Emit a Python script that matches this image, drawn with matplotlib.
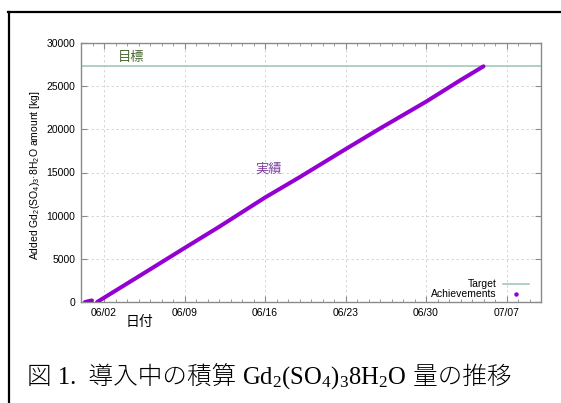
import matplotlib
matplotlib.use("Agg")
import matplotlib.pyplot as plt
import matplotlib.dates as mdates
from matplotlib.lines import Line2D
import pandas as pd

# ---- data ----
test_dates = ["2018-05-31 08:30", "2018-05-31 22:30"]
test_values = [0, 180]

main_dates = ["2018-06-01 09:40", "2018-06-02 00:00", "2018-06-05 00:00",
              "2018-06-09 00:00", "2018-06-12 00:00", "2018-06-16 00:00",
              "2018-06-19 00:00", "2018-06-23 00:00", "2018-06-26 00:00",
              "2018-06-30 00:00", "2018-07-03 00:00", "2018-07-05 00:00"]
main_values = [0, 490, 2950, 6250, 8700, 12100, 14450, 17700, 20100,
               23200, 25700, 27300]

target_value = 27300
x_major_ticks = ["2018-06-02", "2018-06-09", "2018-06-16", "2018-06-23",
                 "2018-06-30", "2018-07-07"]
x_range = ["2018-05-31", "2018-07-10"]
y_ticks = [0, 5000, 10000, 15000, 20000, 25000, 30000]

# ---- style ----
plt.rcParams['font.family'] = ['Liberation Sans', 'Noto Sans CJK JP']
plt.rcParams['mathtext.default'] = 'regular'

fig = plt.figure(figsize=(5.61, 4.03), dpi=100)
ax = fig.add_axes([81/561, 1-302/403, 460/561, 259/403])

purple = '#9400d3'
target_col = '#9fc9b9'
gray = '#8a8a8a'

td = pd.to_datetime(test_dates)
md = pd.to_datetime(main_dates)
ax.plot(td, test_values, color=purple, lw=2.9, solid_capstyle='round', zorder=3)
ax.plot(md, main_values, color=purple, lw=2.9, solid_capstyle='round', zorder=3)
ax.axhline(target_value, color=target_col, lw=1.2, zorder=2)

xr = pd.to_datetime(x_range)
ax.set_xlim(xr[0], xr[1])
ax.set_ylim(0, 30000)
ax.set_yticks(y_ticks)
ax.set_xticks(pd.to_datetime(x_major_ticks))
ax.xaxis.set_major_formatter(mdates.DateFormatter('%m/%d'))
ax.xaxis.set_minor_locator(mdates.DayLocator())

ax.grid(True, which='major', color='#d0d0d0', ls=(0, (3, 3)), lw=0.6)
for s in ax.spines.values():
    s.set_color(gray)
    s.set_linewidth(1.0)
ax.tick_params(which='both', direction='in', top=True, right=True,
               color=gray, labelsize=7.5, pad=4)
ax.tick_params(which='major', length=4)
ax.tick_params(which='minor', length=2.5)

# annotations
ax.text(pd.Timestamp("2018-06-03 06:00"), 28250, "目標", color='#4a6a34',
        fontsize=9.5, ha='left', va='center')
ax.text(pd.Timestamp("2018-06-16 08:00"), 15300, "実績", color='#7b3f9e',
        fontsize=9.5, ha='center', va='center')

# legend (gnuplot style)
ax.text(0.904, 0.0695, "Target", transform=ax.transAxes, ha='right',
        va='center', fontsize=7.5)
ax.text(0.904, 0.031, "Achievements", transform=ax.transAxes, ha='right',
        va='center', fontsize=7.5)
ax.add_line(Line2D([0.917, 0.974], [0.0695, 0.0695], transform=ax.transAxes,
                   color=target_col, lw=1.2))
ax.add_line(Line2D([0.946], [0.031], transform=ax.transAxes, color=purple,
                   marker='o', ms=2.2, ls='none'))

# axis labels
fig.text(35/561, 1-175/403,
         "Added Gd$_2$(SO$_4$)$_3$·8H$_2$O amount [kg]", rotation=90,
         ha='center', va='center', fontsize=7.5)
fig.text(139/561, 1-322/403, "日付", ha='center', va='center', fontsize=10)

# caption, drawn in pieces so CJK glyphs and the formula both render
cap_pieces = [("図 1.  導入中の積算 ", ['Liberation Serif', 'Noto Sans CJK JP']),
              ("Gd$_2$(SO$_4$)$_3$8H$_2$O", ['Liberation Serif']),
              (" 量の推移", ['Liberation Serif', 'Noto Sans CJK JP'])]
fig.canvas.draw()
renderer = fig.canvas.get_renderer()
x0 = 27
ybase = 1 - 384/403
for txt, fam in cap_pieces:
    t = fig.text(x0/561, ybase, txt, ha='left', va='baseline', fontsize=17.7,
                 family=fam, fontweight='light')
    bb = t.get_window_extent(renderer=renderer)
    x0 = bb.x1

# outer frame
fig.add_artist(Line2D([8/561, 1], [1-12/403, 1-12/403], transform=fig.transFigure,
                      color='black', lw=1.6))
fig.add_artist(Line2D([9/561, 9/561], [0, 1-12/403], transform=fig.transFigure,
                      color='black', lw=1.6))

fig.savefig("out.png", dpi=100)
